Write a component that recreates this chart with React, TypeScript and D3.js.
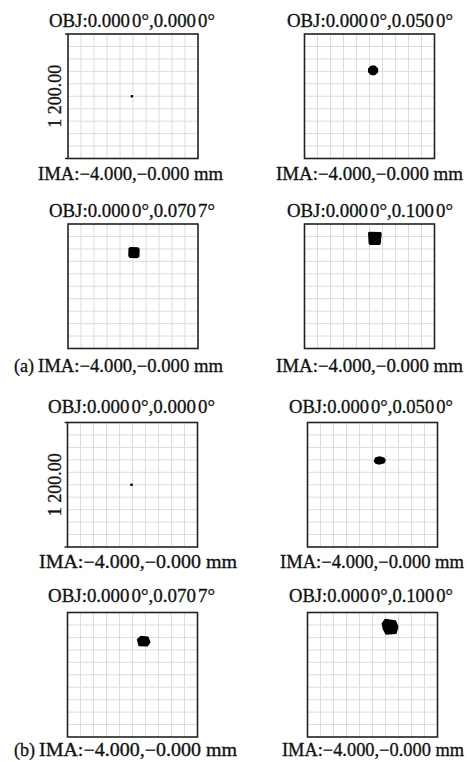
import * as d3 from "d3";

// field angles (deg) of each spot diagram, Y field only
const fieldY = ["0.0000", "0.0500", "0.0707", "0.1000"];
// spot centroids relative to box centre, µm (y up)
const centroidXA = [-10, 33, 9, 49];
const centroidYA = [0, 249, 324, 460];
const centroidXB = [-9, 66, 102, 161];
const centroidYB = [0, 234, 324, 462];
// spot outlines, µm relative to centroid
const shapesA = [
  [[-5, -5], [5, -5], [5, 5], [-5, 5]],
  [[-40, 16], [-16, 40], [16, 40], [40, 16], [40, -16], [16, -40], [-16, -40], [-40, -16]],
  [[-44, 40], [-30, 47], [36, 45], [46, 30], [44, -36], [30, -47], [-36, -45], [-46, -30]],
  [[-56, 52], [-50, 57], [52, 56], [57, 48], [48, -50], [40, -56], [-42, -56], [-50, -48]],
];
const shapesB = [
  [[-5, -5], [5, -5], [5, 5], [-5, 5]],
  [[-48, -8], [-35, 25], [0, 33], [38, 22], [50, 0], [38, -22], [0, -33], [-30, -28]],
  [[-55, 15], [-25, 45], [40, 38], [58, -10], [35, -45], [-40, -42]],
  [[-70, 30], [-45, 70], [50, 55], [72, 0], [55, -62], [-35, -70], [-60, -20]],
];
const boxSize = 1200; // µm, full width of each box
const scaleLabel = "1 200.00";
const imaLabel = "IMA:\u22124.000,\u22120.000 mm";
const groups = ["(a)", "(b)"];

const W = 467;
const H = 762;
const font = "'Liberation Serif', 'Times New Roman', serif";

// layout of the 8 panels (row, col)
const rowTop = [34, 224, 422.5, 612.5];
const boxH = 124.5;
const boxW = 130;
const colLeft = [[68, 304.5], [68, 304.5], [67.5, 307.5], [67.5, 307.5]];
const titleBase = [27, 217, 413, 602];
const labelBase = [180, 372, 568, 756];
const titleX = [[49, 287], [49, 287], [48, 289], [48, 289]];
const titleLen = [[166, 166], [166, 166], [167, 164], [167, 164]];
const labelX = [[38, 276], [38, 276], [39, 280], [39, 282]];
const labelLen = [[185, 187], [185, 187], [198, 184], [198, 182]];

const textStyle = { fill: "#111", stroke: "#111", strokeWidth: 0.3 };

function Panel({ row, col }: { row: number; col: number }) {
  const group = row < 2 ? 0 : 1;
  const fi = (row % 2) * 2 + col;
  const x0 = colLeft[row][col];
  const y0 = rowTop[row];
  const x = d3.scaleLinear().domain([-boxSize / 2, boxSize / 2]).range([x0, x0 + boxW]);
  const y = d3.scaleLinear().domain([-boxSize / 2, boxSize / 2]).range([y0 + boxH, y0]);
  const grid = d3.range(-boxSize / 2 + boxSize / 10, boxSize / 2 - 1, boxSize / 10);
  const cx = group === 0 ? centroidXA[fi] : centroidXB[fi];
  const cy = group === 0 ? centroidYA[fi] : centroidYB[fi];
  const pts = (group === 0 ? shapesA : shapesB)[fi];
  const line = d3
    .line<number[]>()
    .x((d) => x(cx + d[0]))
    .y((d) => y(cy + d[1]))
    .curve(d3.curveLinearClosed);
  const showScale = fi === 0;
  const showGroup = fi === 2;
  const f = fieldY[fi];
  return (
    <g>
      <text
        x={titleX[row][col]}
        y={titleBase[row]}
        fontSize={18}
        textLength={titleLen[row][col]}
        lengthAdjust="spacingAndGlyphs"
        {...textStyle}
      >
        <tspan>OBJ:0.000</tspan>
        <tspan dx={2}>{"0\u00b0,"}</tspan>
        <tspan>{f.slice(0, 5)}</tspan>
        <tspan dx={2}>{f.slice(5) + "\u00b0"}</tspan>
      </text>
      {grid.map((g) => (
        <line key={"v" + g} x1={x(g)} x2={x(g)} y1={y0} y2={y0 + boxH} stroke="#dcdcdc" strokeWidth={1} />
      ))}
      {grid.map((g) => (
        <line key={"h" + g} x1={x0} x2={x0 + boxW} y1={y(g)} y2={y(g)} stroke="#dcdcdc" strokeWidth={1} />
      ))}
      <rect x={x0} y={y0} width={boxW} height={boxH} fill="none" stroke="#222" strokeWidth={1.6} />
      {showScale && (
        <g>
          <line x1={x0 - 3} x2={x0} y1={y0} y2={y0} stroke="#222" strokeWidth={1.4} />
          <line x1={x0 - 3} x2={x0} y1={y0 + boxH} y2={y0 + boxH} stroke="#222" strokeWidth={1.4} />
          <text
            transform={`translate(${x0 - 7},${y(0)}) rotate(-90)`}
            textAnchor="middle"
            fontSize={18}
            {...textStyle}
          >
            {scaleLabel}
          </text>
        </g>
      )}
      <path d={line(pts) || ""} fill="#000" stroke="#000" strokeWidth={1.5} strokeLinejoin="round" />
      {showGroup && (
        <text x={labelX[row][col] - 4} y={labelBase[row]} textAnchor="end" fontSize={18} {...textStyle}>
          {groups[group]}
        </text>
      )}
      <text
        x={labelX[row][col]}
        y={labelBase[row]}
        fontSize={18}
        textLength={labelLen[row][col]}
        lengthAdjust="spacingAndGlyphs"
        {...textStyle}
      >
        {imaLabel}
      </text>
    </g>
  );
}

export default function App() {
  const cells: { row: number; col: number }[] = [];
  for (let r = 0; r < 4; r++) for (let c = 0; c < 2; c++) cells.push({ row: r, col: c });
  return (
    <svg
      width={W}
      height={H}
      style={{ position: "absolute", left: 0, top: 0, background: "#fff" }}
      fontFamily={font}
    >
      <rect width={W} height={H} fill="#fff" />
      {cells.map((d) => (
        <Panel key={`${d.row}-${d.col}`} row={d.row} col={d.col} />
      ))}
    </svg>
  );
}
